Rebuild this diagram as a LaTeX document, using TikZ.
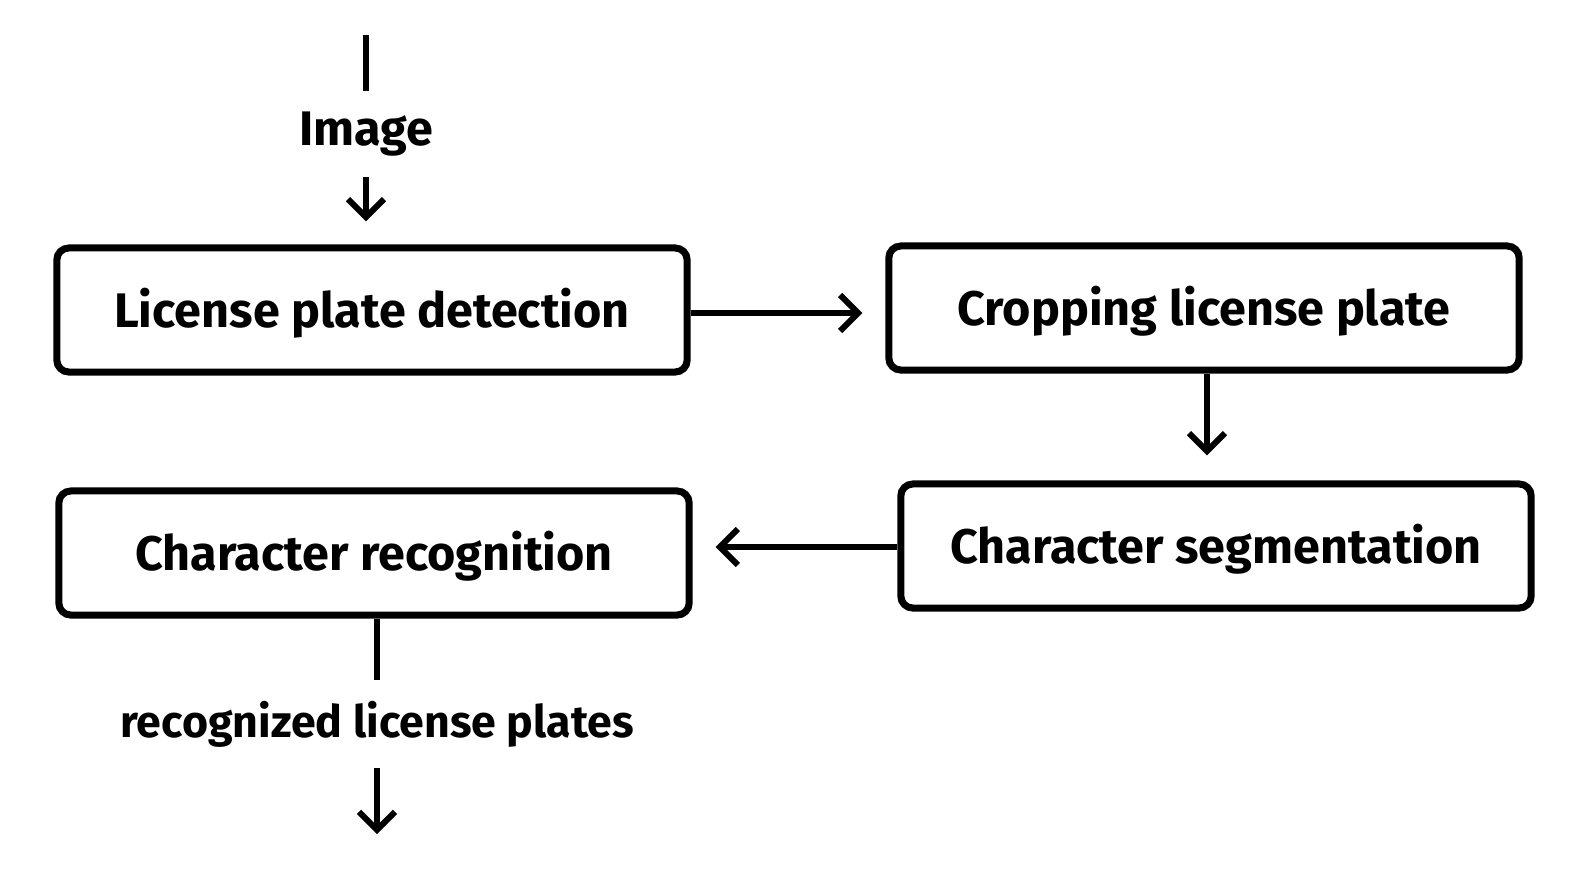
\documentclass[tikz,border=0pt]{standalone}
\usepackage{fontspec}
\setmainfont{Fira Sans}
\usepackage{tikz}
\usetikzlibrary{arrows.meta}
\usetikzlibrary{calc}

\begin{document}
\begin{tikzpicture}[x=0.01cm,y=-0.01cm]
                \tikzstyle{every node}=[font=\fontsize{13.8}{16}\selectfont\bfseries]
                \tikzstyle{stage}=[draw,line width=2pt,rounded corners=0.12cm,minimum width=6.3cm,minimum height=1.24cm,text depth=0.05cm]
                \tikzstyle{flow}=[line width=1.7pt,-{Straight Barb[length=0.18cm,width=0.36cm,line width=1.7pt]}]
                \tikzstyle{io}=[inner sep=0.2cm]
                \useasboundingbox (0,0) rectangle (1590,878);
                \node [stage] (det) at (372,310) {License plate detection};
                \node [stage] (crop) at (1204,308) {Cropping license plate};
                \node [stage] (seg) at (1216,546) {Character segmentation};
                \node [stage] (rec) at (374,553) {Character recognition};
                \coordinate (in) at (366,35);
                \node [io] (img) at (366,134) {Image};
                \node [io,font=\fontsize{12.7}{15}\selectfont\bfseries] (out) at (377,724) {recognized license plates};
                \coordinate (end) at (377,834);
                % input
                \draw [line width=1.7pt] (in) -- (img);
                \draw [flow,shorten >=0.23cm] (img) -- (img |- det.north);
                % stages
                \draw [flow,shorten >=0.23cm] (det.east |- 0,313) -- (crop.west |- 0,313);
                \draw [flow,shorten >=0.25cm] (crop.south -| 1207,0) -- (seg.north -| 1207,0);
                \draw [flow,shorten >=0.23cm] (seg.west |- 0,547) -- (rec.east |- 0,547);
                % output
                \draw [line width=1.7pt] (rec.south -| out) -- (out);
                \draw [flow] (out) -- (end);
            \end{tikzpicture}
\end{document}
